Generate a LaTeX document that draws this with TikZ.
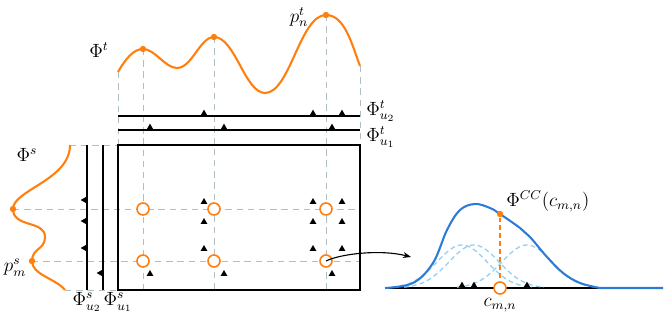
\documentclass[tikz,border=0pt]{standalone}
\usetikzlibrary{shapes.geometric,arrows.meta}
\definecolor{phiorange}{RGB}{255,127,14}
\definecolor{ccblue}{RGB}{44,123,214}
\definecolor{kernblue}{RGB}{145,208,240}
\definecolor{guidegray}{RGB}{178,190,195}
\begin{document}
\begin{tikzpicture}[x=0.022cm,y=-0.022cm,font=\fontsize{12}{14}\selectfont,
  guide/.style={guidegray,dash pattern=on 4pt off 3pt,line width=0.6pt},
  axisline/.style={line width=0.9pt},
  phicurve/.style={phiorange,line width=1.3pt},
  peak/.style={circle,fill=phiorange,inner sep=0pt,minimum size=4pt},
  cand/.style={circle,draw=phiorange,line width=1pt,fill=white,inner sep=0pt,minimum size=7.5pt},
  anc/.style={regular polygon,regular polygon sides=3,fill=black,inner sep=0pt,minimum size=5pt,anchor=south},
  kern/.style={kernblue,dash pattern=on 3pt off 2pt,line width=0.8pt},
  lbl/.style={inner sep=0pt}]
\useasboundingbox (0,0) rectangle (665,320);
\coordinate (bxa) at (118,145);
\coordinate (bxb) at (360,290);
\coordinate (tstart) at (118,72);
\coordinate (tend) at (360,66);
\coordinate (sstart) at (70,145);
\coordinate (send) at (65,290);
\coordinate (pt1) at (143,49);
\coordinate (pt2) at (214,37);
\coordinate (pt3) at (326,15);
\coordinate (ps1) at (13,209);
\coordinate (ps2) at (32,261);
\coordinate (tu2) at (118,116);
\coordinate (tu1) at (118,130);
\coordinate (su2) at (87,145);
\coordinate (su1) at (103,145);
\draw[guide] (tstart) -- (bxa);
\draw[guide] (tend) -- (tend |- bxa);
\draw[guide] (sstart) -- (bxa);
\draw[guide] (send) -- (send -| bxa);
\foreach \i in {1,2,3} \draw[guide] (pt\i) -- (pt\i |- bxb);
\foreach \j in {1,2} \draw[guide] (ps\j) -- (ps\j -| bxb);
\draw[phicurve] (tstart) .. controls (126,58) and (134,49) .. (pt1)
  .. controls (155,49) and (165,68) .. (177,68)
  .. controls (192,68) and (200,37) .. (pt2)
  .. controls (235,37) and (245,93) .. (265,93)
  .. controls (290,93) and (300,15) .. (pt3)
  .. controls (345,15) and (352,45) .. (tend);
\draw[phicurve] (sstart) .. controls (70,180) and (13,190) .. (ps1)
  .. controls (13,228) and (45,220) .. (45,237)
  .. controls (45,250) and (32,248) .. (ps2)
  .. controls (32,275) and (55,278) .. (send);
\draw[axisline] (tu2) -- (tu2 -| bxb);
\draw[axisline] (tu1) -- (tu1 -| bxb);
\draw[axisline] (su2) -- (su2 |- bxb);
\draw[axisline] (su1) -- (su1 |- bxb);
\draw[axisline] (bxa) rectangle (bxb);
\foreach \i in {1,2,3} \node[peak] (dt\i) at (pt\i) {};
\foreach \j in {1,2} \node[peak] (ds\j) at (ps\j) {};
\foreach \x [count=\i] in {204,313,342} \node[anc] (at2-\i) at (\x,116) {};
\foreach \x [count=\i] in {150,224,332} \node[anc] (at1-\i) at (\x,130) {};
\foreach \y [count=\j] in {200,221,248} \node[anc,rotate=90] (as2-\j) at (87,\y) {};
\node[anc,rotate=90] (as1-1) at (103,273) {};
\foreach \x [count=\i] in {204,313,342}
  \foreach \y [count=\j] in {202,222,249}
    \node[anc,anchor=center] (ab2-\i-\j) at (\x,\y) {};
\foreach \x [count=\i] in {150,224,332} \node[anc,anchor=center] (ab1-\i) at (\x,274) {};
\foreach \j in {1,2}
  \foreach \i in {1,2,3}
    \node[cand] (c-\j-\i) at (pt\i |- ps\j) {};
\node[lbl] (lphit) at (99,50) {$\Phi^t$};
\node[lbl] (lpnt) at (299,17) {$p^t_n$};
\node[lbl,anchor=west] (lphitu2) at (366,111) {$\Phi^t_{u_2}$};
\node[lbl,anchor=west] (lphitu1) at (366,137) {$\Phi^t_{u_1}$};
\node[lbl] (lphis) at (27,155) {$\Phi^s$};
\node[lbl] (lpms) at (15,268) {$p^s_m$};
\node[lbl] (lphisu2) at (87,302) {$\Phi^s_{u_2}$};
\node[lbl] (lphisu1) at (118,302) {$\Phi^s_{u_1}$};
\coordinate (bl) at (385,288);
\coordinate (br) at (663,288);
\coordinate (arr) at (411,257);
\draw[axisline] (bl) -- (br);
\foreach \m in {462,474,527}
  \draw[kern] plot[domain=\m-70:\m+70,samples=60] (\x,{288-43*exp(-0.5*pow((\x-\m)/25,2))});
\draw[ccblue,line width=1.3pt] plot[smooth,tension=0.6] coordinates {(385,288) (413,283) (433,263) (447,230) (460,210) (475,204) (490,208) (500,214) (520,228) (530,237) (547,257) (563,273) (580,283) (600,288)} -- (br);
\foreach \x [count=\i] in {462,474,527} \node[anc] (ak-\i) at (\x,288) {};
\node[cand] (cmn) at (500,288) {};
\node[peak] (ccd) at (500,214) {};
\draw[phiorange,dash pattern=on 3pt off 2pt,line width=0.8pt] (ccd) -- (cmn);
\node[lbl,anchor=west] (lcc) at (506,201) {$\Phi^{CC}(c_{m,n})$};
\node[lbl] (lcmn) at (500,305) {$c_{m,n}$};
\draw[-{Stealth[length=5pt]},line width=0.7pt] (c-2-3.center) .. controls (340,254) and (380,249) .. (arr);
\end{tikzpicture}
\end{document}
